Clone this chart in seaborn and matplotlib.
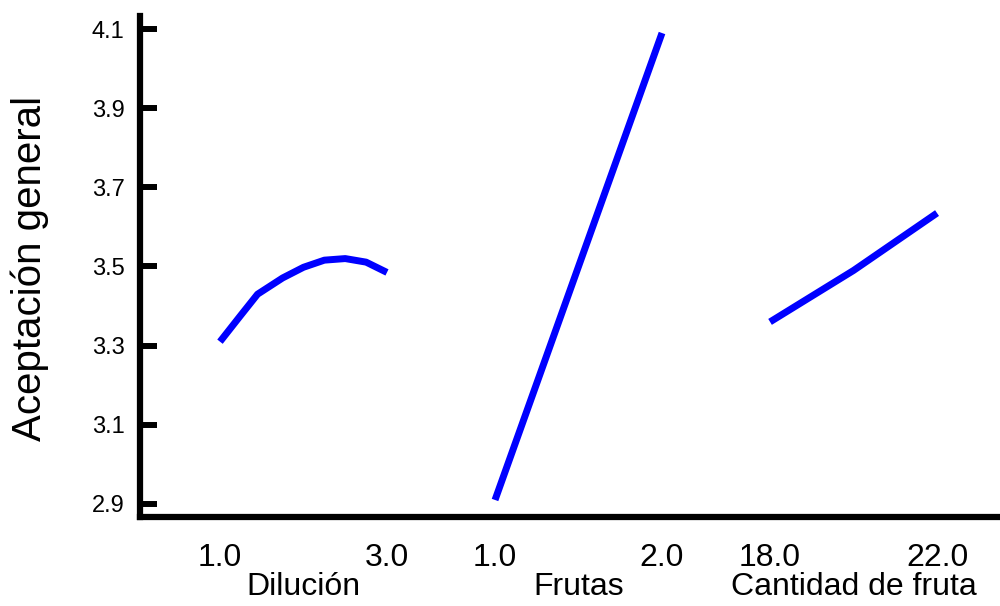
import matplotlib
matplotlib.use("Agg")
import matplotlib.pyplot as plt
import matplotlib.transforms as mtransforms
import numpy as np
import pandas as pd
import seaborn as sns

# Factor names and their low/high levels
factors = ["Dilución", "Frutas", "Cantidad de fruta"]
low_levels = [1.0, 1.0, 18.0]
high_levels = [3.0, 2.0, 22.0]
tick_texts = ["1.0", "3.0", "1.0", "2.0", "18.0", "22.0"]

# Predicted response along each factor
dilucion_x = [1.0, 1.25, 1.45, 1.75, 2.0, 2.25, 2.5, 2.75, 3.0]
dilucion_y = [3.31, 3.377, 3.43, 3.471, 3.498, 3.516, 3.52, 3.511, 3.485]
frutas_x = [1.0, 1.5, 2.0]
frutas_y = [2.91, 3.50, 4.09]
cantidad_x = [18.0, 20.0, 22.0]
cantidad_y = [3.36, 3.49, 3.635]

y_ticks = [2.9, 3.1, 3.3, 3.5, 3.7, 3.9, 4.1]
y_label = "Aceptación general"

# Each factor occupies one unit of the x axis, separated by a gap
segment_step = 1.647
offsets = [i * segment_step for i in range(len(factors))]

series_x = [dilucion_x, frutas_x, cantidad_x]
series_y = [dilucion_y, frutas_y, cantidad_y]
rows = []
for f, off, lo, hi, xs, ys in zip(factors, offsets, low_levels, high_levels,
                                  series_x, series_y):
    for xv, yv in zip(xs, ys):
        rows.append({"factor": f, "level": xv, "value": yv,
                     "pos": off + (xv - lo) / (hi - lo)})
df = pd.DataFrame(rows)

sns.set_style("white")
plt.rcParams["font.family"] = ["Liberation Sans", "DejaVu Sans"]
plt.rcParams["text.color"] = "black"

fig = plt.figure(figsize=(10, 6.06), dpi=100)
ax = fig.add_axes([0.14, 0.1469, 0.86, 0.8267])

sns.lineplot(data=df, x="pos", y="value", units="factor", estimator=None,
             sort=False, color="#0000FF", linewidth=5, ax=ax, legend=False,
             solid_capstyle="butt")

ax.set_xlim(-0.479, 4.671)
ax.set_ylim(2.867, 4.133)

tick_pos = []
for off in offsets:
    tick_pos += [off, off + 1.0]
ax.set_xticks(tick_pos)
ax.set_xticklabels(tick_texts)
ax.set_yticks(y_ticks)
ax.set_yticklabels([f"{v:.1f}" for v in y_ticks])

ax.tick_params(axis="x", bottom=False, length=0, pad=19, labelsize=23,
               colors="black")
ax.tick_params(axis="y", left=True, direction="in", length=12, width=4.3,
               pad=11, labelsize=17, colors="black")

for side in ("top", "right"):
    ax.spines[side].set_visible(False)
for side in ("left", "bottom"):
    ax.spines[side].set_linewidth(4.5)
    ax.spines[side].set_color("black")
    ax.spines[side].set_capstyle("projecting")

ax.set_xlabel("")
ax.set_ylabel("")

# Factor names centred under each segment
trans = mtransforms.blended_transform_factory(ax.transData, ax.transAxes)
for f, off in zip(factors, offsets):
    ax.text(off + 0.5, -0.140, f, transform=trans, ha="center", va="center",
            fontsize=23, color="black")

fig.text(0.030, 1 - 268 / 606, y_label, rotation=90, ha="center",
         va="center", fontsize=29, color="black")

fig.savefig("out.png", dpi=100)
